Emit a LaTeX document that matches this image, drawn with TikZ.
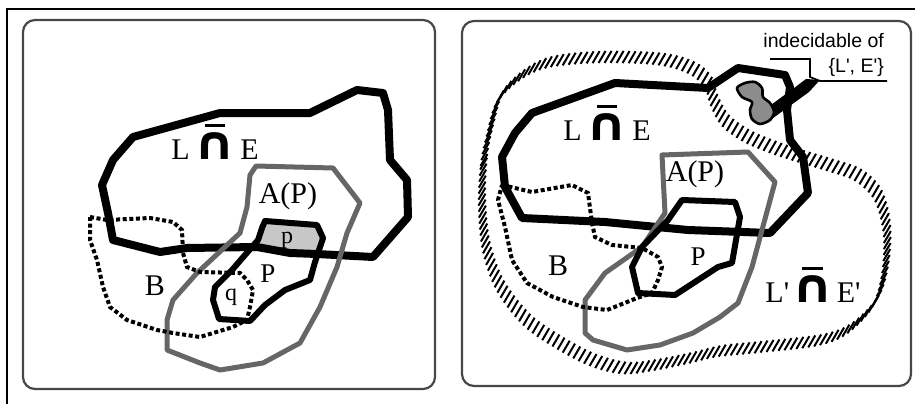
\documentclass[tikz,border=0pt]{standalone}
\usepackage{fontspec}
\usepackage{graphicx}
\setmainfont{Liberation Serif}
\newfontfamily\sansf{Liberation Sans}
\newfontfamily\capf{DejaVu Sans}
\usetikzlibrary{decorations.markings}
\newcommand\capbar{\leavevmode\setbox0\hbox{\scalebox{1.75}[1.55]{\capf\bfseries ∩}}%
  \rlap{\hbox to\wd0{\hss\raisebox{\dimexpr\ht0+5pt\relax}{\rule{0.48\wd0}{2.6pt}}\hss}}\box0}
\tikzset{
  thickline/.style={line width=8pt, line join=round, black},
  pline/.style={line width=6pt, line join=round, black},
  apline/.style={line width=5pt, line join=round, black!60},
  bline/.style={line width=4pt, dash pattern=on 4pt off 2.6pt, black},
  panel/.style={draw=black!72, line width=2.2pt, rounded corners=12pt},
  hatch/.style={decorate, decoration={markings,
    mark=between positions 0 and 1 step 6pt with {\pgftransformresetnontranslations
      \draw[line width=2pt, black, line cap=butt] (-3.5pt,-6pt) -- (3.5pt,6pt);}}},
  lab/.style={font=\fontsize{30}{33}\selectfont, anchor=base, inner sep=0pt},
  plab/.style={font=\fontsize{27}{30}\selectfont, anchor=base, inner sep=0pt},
  slab/.style={font=\fontsize{24}{26}\selectfont, anchor=base, inner sep=0pt},
  sanslab/.style={font=\sansf\fontsize{19.5}{22}\selectfont, anchor=base east, inner sep=0pt}
}
\begin{document}
\begin{tikzpicture}[x=1pt,y=-1pt]
\useasboundingbox (0,0) rectangle (915,404);
% outer frame lines
\draw[line width=2.4pt] (6,9) -- (915,9);
\draw[line width=2pt] (7,9) -- (7,404);
% panels
\draw[panel] (23,20) rectangle (435,389);
\draw[panel] (462,21) rectangle (911,386);

% ===== LEFT PANEL =====
\begin{scope}
  \clip (133,137) -- (220,113) -- (310,113) -- (357,90) -- (383,93) -- (388,110) -- (390,160) -- (407,180) -- (408,217) -- (373,257) -- (317,254) -- (290,253) -- (257,247) -- (187,248) -- (160,252) -- (113,240) -- (108,213) -- (102,185) -- (113,160) -- cycle;
  \fill[black!22] (265,221) -- (317,225) -- (323,238) -- (315,262) -- (310,280) -- (285,290) -- (265,305) -- (250,321) -- (219,319) -- (213,300) -- (215,287) -- (232,270) -- (258,240) -- (262,228) -- cycle;
\end{scope}
\draw[thickline] (133,137) -- (220,113) -- (310,113) -- (357,90) -- (383,93) -- (388,110) -- (390,160) -- (407,180) -- (408,217) -- (373,257) -- (317,254) -- (290,253) -- (257,247) -- (187,248) -- (160,252) -- (113,240) -- (108,213) -- (102,185) -- (113,160) -- cycle;
\draw[apline] (250,175) -- (256,166) -- (333,168) -- (360,203) -- (347,233) -- (337,267) -- (320,307) -- (300,343) -- (263,363) -- (220,370) -- (200,363) -- (167,350) -- (167,320) -- (173,300) -- (197,273) -- (240,233) -- (247,207) -- cycle;
\draw[pline] (265,221) -- (317,225) -- (323,238) -- (315,262) -- (310,280) -- (285,290) -- (265,305) -- (250,321) -- (219,319) -- (213,300) -- (215,287) -- (232,270) -- (258,240) -- (262,228) -- cycle;
\draw[bline] (90,217) -- (107,220) -- (150,218) -- (173,222) -- (182,230) -- (183,253) -- (187,267) -- (200,272) -- (240,273) -- (247,280) -- (253,290) -- (250,307) -- (247,320) -- (233,327) -- (200,337) -- (173,333) -- (157,330) -- (127,320) -- (110,307) -- (103,287) -- (97,260) -- (90,240) -- cycle;

\node[lab] (le1) at (215,159) {L\hspace{4pt}\capbar\hspace{4pt}E};
\node[lab] (ap1) at (288,203) {A(P)};
\node[plab] (P1) at (268,282) {P};
\node[slab] (p1) at (287,243) {p};
\node[slab] (q1) at (231,300) {q};
\node[lab] (B1) at (155,295) {B};

% ===== RIGHT PANEL =====
\path[hatch] plot[smooth cycle, tension=0.55] coordinates {(482,200) (484,160) (490,130) (500,97) (522,75) (550,62) (600,57) (660,59) (692,68) (708,82) (714,100) (725,120) (745,135) (770,146) (800,156) (830,165) (858,175) (878,195) (887,230) (885,270) (875,302) (850,328) (820,340) (760,347) (720,351) (690,358) (655,365) (625,368) (593,360) (560,343) (527,320) (500,285) (486,245)};

\draw[thickline] (532,113) -- (615,83) -- (708,88) -- (738,68) -- (785,75) -- (790,87) -- (787,110) -- (790,140) -- (803,157) -- (808,193) -- (770,233) -- (688,230) -- (605,222) -- (522,218) -- (505,187) -- (502,157) -- (515,133) -- cycle;
\draw[apline] (662,155) -- (748,152) -- (775,182) -- (762,230) -- (752,267) -- (738,303) -- (720,317) -- (693,333) -- (660,345) -- (627,350) -- (593,340) -- (585,333) -- (585,300) -- (605,273) -- (642,247) -- (665,213) -- cycle;
\draw[pline] (682,200) -- (735,202) -- (740,217) -- (732,263) -- (718,267) -- (675,295) -- (638,293) -- (632,267) -- (642,247) -- (668,220) -- cycle;
\draw[bline] (502,185) -- (532,192) -- (572,185) -- (588,193) -- (592,223) -- (595,237) -- (612,245) -- (642,248) -- (658,257) -- (662,267) -- (658,280) -- (652,293) -- (637,298) -- (607,310) -- (583,307) -- (553,297) -- (527,283) -- (512,260) -- (505,227) -- (498,200) -- cycle;

% indecidable blob and leader
\fill[black] (764,110) -- (790,91) -- (806,79) -- (820,80) -- (809,92) -- (769,121) -- cycle;
\filldraw[fill=black!45, draw=black, line width=2.6pt, line join=round] plot[smooth cycle, tension=0.5] coordinates {(737,88) (745,83) (755,82) (762,88) (763,97) (770,103) (774,112) (770,120) (760,124) (752,119) (750,110) (752,102) (742,97)};
\draw[line width=1.7pt] (770,59) -- (810,59) -- (810,77) -- (820,81) -- (887,81);

\node[lab] (le2) at (607,140) {L\hspace{4pt}\capbar\hspace{4pt}E};
\node[lab] (ap2) at (695,181) {A(P)};
\node[plab] (P2) at (698,265) {P};
\node[lab] (B2) at (558,275) {B};
\node[lab] (le3) at (813,302) {L\textquotesingle\hspace{2pt}\capbar\hspace{3pt}E\textquotesingle};
\node[sanslab] (ind1) at (884,48) {indecidable of};
\node[sanslab] (ind2) at (884,73) {\{L\textquotesingle, E\textquotesingle\}};
\end{tikzpicture}
\end{document}
